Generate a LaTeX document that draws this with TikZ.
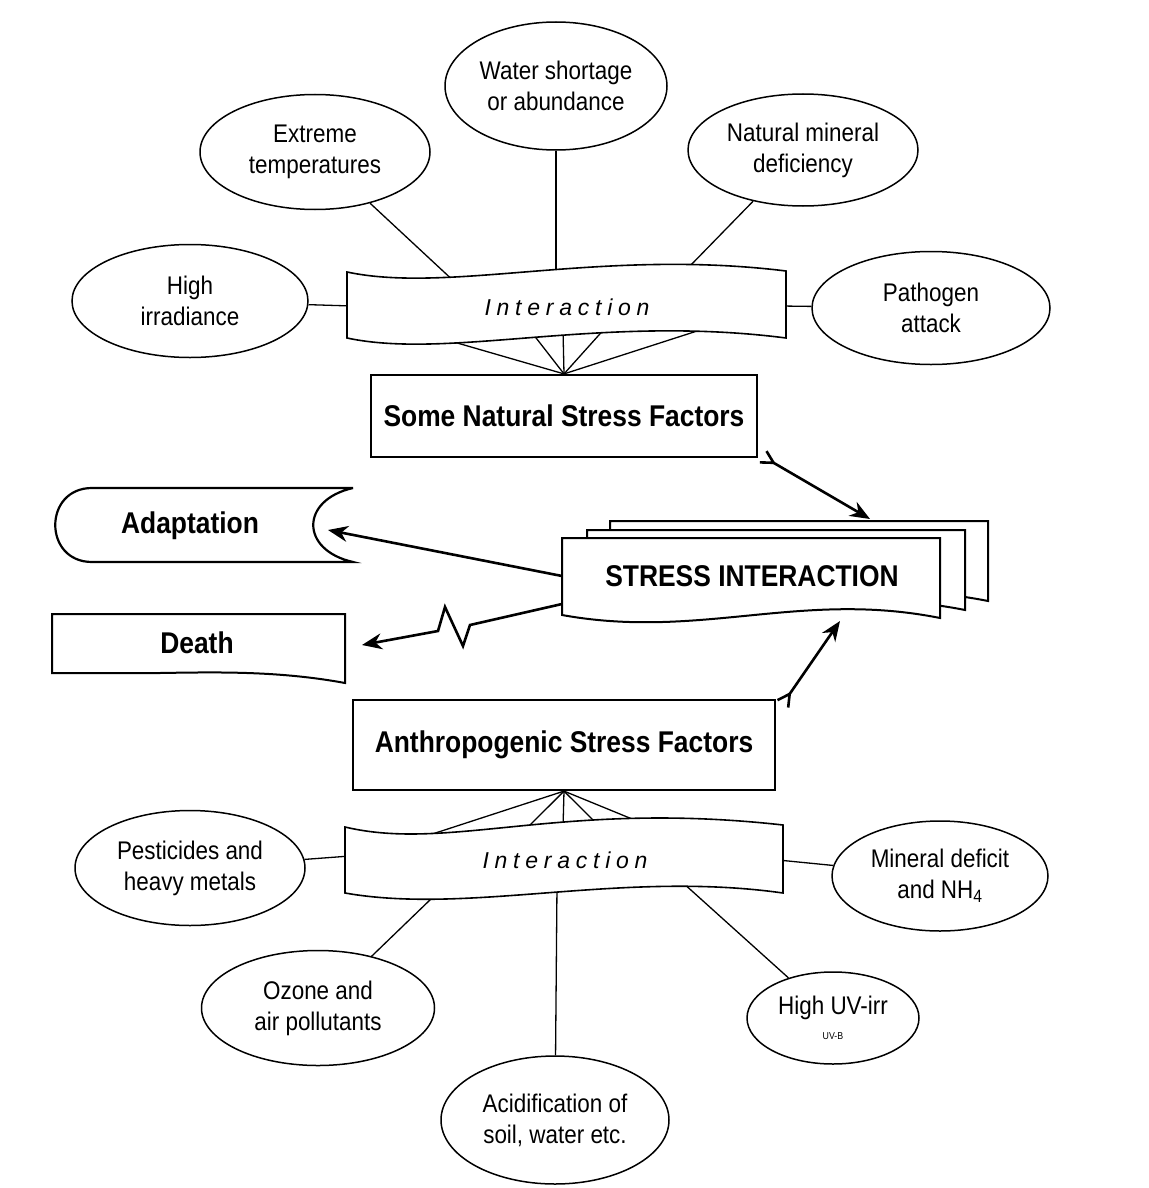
\documentclass[tikz,border=0pt]{standalone}
\usepackage{fontspec}
\setmainfont{Liberation Sans}
\newfontfamily\factorfont[FakeStretch=0.88]{Liberation Sans}
\newfontfamily\bandfont[LetterSpace=25]{Liberation Sans}
\usetikzlibrary{shapes.geometric,arrows.meta}

\tikzset{
  factor/.style={ellipse, draw, fill=white, line width=1.5pt, inner sep=0pt, align=center,
    font=\factorfont\fontsize{25.5}{31}\selectfont},
  stressbox/.style={draw, fill=white, line width=2.2pt, inner sep=0pt,
    font=\factorfont\bfseries\fontsize{30}{36}\selectfont},
  bandtext/.style={font=\bandfont\itshape\fontsize{23}{28}\selectfont},
  band/.style={draw, fill=white, line width=1.6pt},
  link/.style={line width=1.3pt},
  outflow/.style={line width=2.6pt, -{Stealth[length=20pt,width=16pt]}},
  flow/.style={outflow, {Straight Barb[reversed,length=12pt,width=13pt]}-{Stealth[length=20pt,width=16pt]}},
}

\begin{document}
\begin{tikzpicture}[x=1pt,y=-1pt]
\useasboundingbox (0,0) rectangle (1148,1188);

% natural factors
\node[factor, minimum width=222pt, minimum height=128pt] (water) at (556,86) {Water shortage\\or abundance};
\node[factor, minimum width=230pt, minimum height=115pt] (extreme) at (315,152) {Extreme\\temperatures};
\node[factor, minimum width=230pt, minimum height=112pt] (mineral) at (803,150) {Natural mineral\\deficiency};
\node[factor, minimum width=236pt, minimum height=113pt] (irradiance) at (190,301) {High\\irradiance};
\node[factor, minimum width=238pt, minimum height=113pt] (pathogen) at (931,308) {Pathogen\\attack};

\node[stressbox, minimum width=386pt, minimum height=82pt] (natural) at (564,416) {Some Natural Stress Factors};

\coordinate (nb-w) at (352,306);
\coordinate (nb-tl) at (458,285);
\coordinate (nb-t) at (556,275);
\coordinate (nb-tr) at (688,268);
\coordinate (nb-e) at (781,306);

\draw[link] (irradiance) -- (nb-w);
\draw[link] (extreme) -- (nb-tl);
\draw[link] (water) -- (nb-t);
\draw[link] (mineral) -- (nb-tr);
\draw[link] (pathogen) -- (nb-e);
\foreach \x/\y in {440/338, 533/334, 563/330, 607/326, 725/322}
  \draw[link] (natural.north) -- (\x,\y);

\draw[band] (347,272) .. controls (450,294) and (600,248) .. (786,271) -- (786,338)
  .. controls (600,314) and (450,360) .. (347,338) -- cycle;
\node[bandtext] (natband) at (567,307) {Interaction};

% stress interaction
\foreach \dx/\dy in {48/-17, 25/-8, 0/0}
  \draw[band, line width=2pt, shift={(\dx,\dy)}] (562,538) -- (940,538) -- (940,618)
    .. controls (800,590) and (700,640) .. (562,615) -- cycle;
\node[font=\factorfont\bfseries\fontsize{30}{36}\selectfont] (stress) at (752,576) {STRESS INTERACTION};

\coordinate (st-n) at (870,519);
\coordinate (st-s) at (840,621);
\coordinate (st-w) at (562,576);
\coordinate (st-wl) at (562,604);

% outcomes
\draw[line width=2.2pt] (353,488) -- (92,488) .. controls (43,488) and (43,562) .. (92,562) -- (353,562)
  .. controls (300,550) and (300,500) .. (353,488);
\node[font=\factorfont\bfseries\fontsize{30}{36}\selectfont] (adapt) at (190,526) {Adaptation};
\coordinate (ad-e) at (328,530);

\draw[line width=2pt] (52,614) -- (345,614) -- (345,683) .. controls (280,671) and (220,672) .. (160,673)
  -- (52,673) -- cycle;
\node[font=\factorfont\bfseries\fontsize{30}{36}\selectfont] (death) at (197,643) {Death};
\coordinate (de-e) at (362,645);

\draw[outflow] (st-w) -- (ad-e);
\draw[outflow] (st-wl) -- (470,625) -- (463,646) -- (445,607) -- (438,631) -- (de-e);

% anthropogenic factors
\node[stressbox, minimum width=422pt, minimum height=90pt] (anthro) at (564,745) {Anthropogenic Stress Factors};

\draw[flow] ([shift={(4,-2)}]natural.south east) -- (st-n);
\draw[flow] ([shift={(6,6)}]anthro.north east) -- (st-s);

\node[factor, minimum width=230pt, minimum height=115pt] (pesticides) at (190,868) {Pesticides and\\heavy metals};
\node[factor, minimum width=216pt, minimum height=110pt] (deficit) at (940,876) {Mineral deficit\\and NH\textsubscript{4}};
\node[factor, minimum width=233pt, minimum height=115pt] (ozone) at (318,1008) {Ozone and\\air pollutants};
\node[factor, minimum width=228pt, minimum height=128pt] (acid) at (555,1120) {Acidification of\\soil, water etc.};
\node[factor, minimum width=172pt, minimum height=92pt] (uv) at (833,1018) {High UV-irr\\[-6pt]{\fontsize{10}{11}\selectfont UV-B}};

\coordinate (ab-w) at (350,856);
\coordinate (ab-e) at (778,860);
\coordinate (ab-sl) at (432,898);
\coordinate (ab-s) at (557,885);
\coordinate (ab-sr) at (682,882);

\draw[link] (pesticides) -- (ab-w);
\draw[link] (deficit) -- (ab-e);
\draw[link] (ozone) -- (ab-sl);
\draw[link] (acid) -- (ab-s);
\draw[link] (uv) -- (ab-sr);
\foreach \x/\y in {417/839, 520/835, 563/828, 597/824, 637/821}
  \draw[link] (anthro.south) -- (\x,\y);

\draw[band] (345,827) .. controls (450,852) and (560,800) .. (783,825) -- (783,893)
  .. controls (620,870) and (470,915) .. (345,893) -- cycle;
\node[bandtext] (anthband) at (565,860) {Interaction};
\end{tikzpicture}
\end{document}
